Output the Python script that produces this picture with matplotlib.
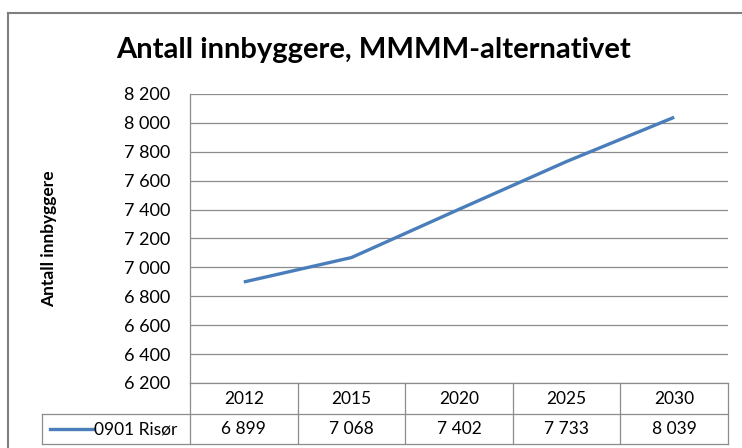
import matplotlib.pyplot as plt
from matplotlib.lines import Line2D
import matplotlib.transforms as mtransforms

plt.rcParams['font.family'] = ['Lato', 'DejaVu Sans']

# data
years = ['2012', '2015', '2020', '2025', '2030']
risor = [6899, 7068, 7402, 7733, 8039]
series_name = '0901 Risør'
y_ticks = list(range(6200, 8201, 200))

title = 'Antall innbyggere, MMMM-alternativet'
y_label = 'Antall innbyggere'

line_color = '#4A7EBB'
grid_color = '#8C8C8C'


def fmt(v):
    return f'{v:,}'.replace(',', ' ')


W, H = 742, 448
fig = plt.figure(figsize=(W / 100, H / 100), dpi=100)

# plot area in pixels
left, right, top, bottom = 190, 728, 94, 383
ax = fig.add_axes([left / W, 1 - bottom / H, (right - left) / W, (bottom - top) / H])

x = list(range(len(years)))
ax.plot(x, risor, color=line_color, lw=2.4, solid_capstyle='butt', zorder=3)

ax.set_xlim(-0.5, len(years) - 0.5)
ax.set_ylim(y_ticks[0], y_ticks[-1])
ax.set_yticks(y_ticks)
ax.set_yticklabels([fmt(v) for v in y_ticks], fontsize=13)
ax.tick_params(axis='y', length=0, pad=14)
ax.set_xticks([])
ax.grid(axis='y', color=grid_color, lw=0.9)
for s in ['top', 'right']:
    ax.spines[s].set_visible(False)
ax.spines['left'].set_color(grid_color)
ax.spines['bottom'].set_color(grid_color)
ax.spines['left'].set_linewidth(0.9)
ax.spines['bottom'].set_linewidth(0.9)

ax.set_ylabel(y_label, fontsize=12.5, fontweight='bold', labelpad=48)

# data table below the axis
ph = bottom - top
row1 = -(414 - bottom) / ph
row2 = -(444 - bottom) / ph
trans = mtransforms.blended_transform_factory(ax.transData, ax.transAxes)
label_left = ax.transAxes.inverted().transform(fig.transFigure.transform((42 / W, 0)))[0]

tbl = dict(color=grid_color, lw=0.9, clip_on=False)
for xb in [i - 0.5 for i in range(len(years) + 1)]:
    ax.plot([xb, xb], [0, row2], transform=trans, **tbl)
ax.plot([label_left, 1], [row1, row1], transform=ax.transAxes, **tbl)
ax.plot([label_left, 1], [row2, row2], transform=ax.transAxes, **tbl)
ax.plot([label_left, label_left], [row1, row2], transform=ax.transAxes, **tbl)

for i, (yr, v) in enumerate(zip(years, risor)):
    ax.text(i, row1 / 2, yr, transform=trans, ha='center', va='center', fontsize=12.5)
    ax.text(i, (row1 + row2) / 2, fmt(v), transform=trans, ha='center', va='center', fontsize=12.5)

# legend key in the table
key_x0 = ax.transAxes.inverted().transform(fig.transFigure.transform((50 / W, 0)))[0]
key_x1 = ax.transAxes.inverted().transform(fig.transFigure.transform((94 / W, 0)))[0]
ym = (row1 + row2) / 2
ax.plot([key_x0, key_x1], [ym, ym], transform=ax.transAxes, color=line_color, lw=2.4, clip_on=False)
ax.text(key_x1, ym, series_name, transform=ax.transAxes, ha='left', va='center', fontsize=12.5)

fig.text(0.5 * (112 + 636) / W, 1 - 50 / H, title, ha='center', va='center',
         fontsize=21, fontweight='bold')

# chart frame (cut off on right and bottom)
frame = dict(color='#7F7F7F', lw=1.5, transform=fig.transFigure)
fig.add_artist(Line2D([8 / W, 8 / W], [0, 1 - 13 / H], **frame))
fig.add_artist(Line2D([8 / W, 1], [1 - 13 / H, 1 - 13 / H], **frame))

fig.savefig('out.png', dpi=100)
